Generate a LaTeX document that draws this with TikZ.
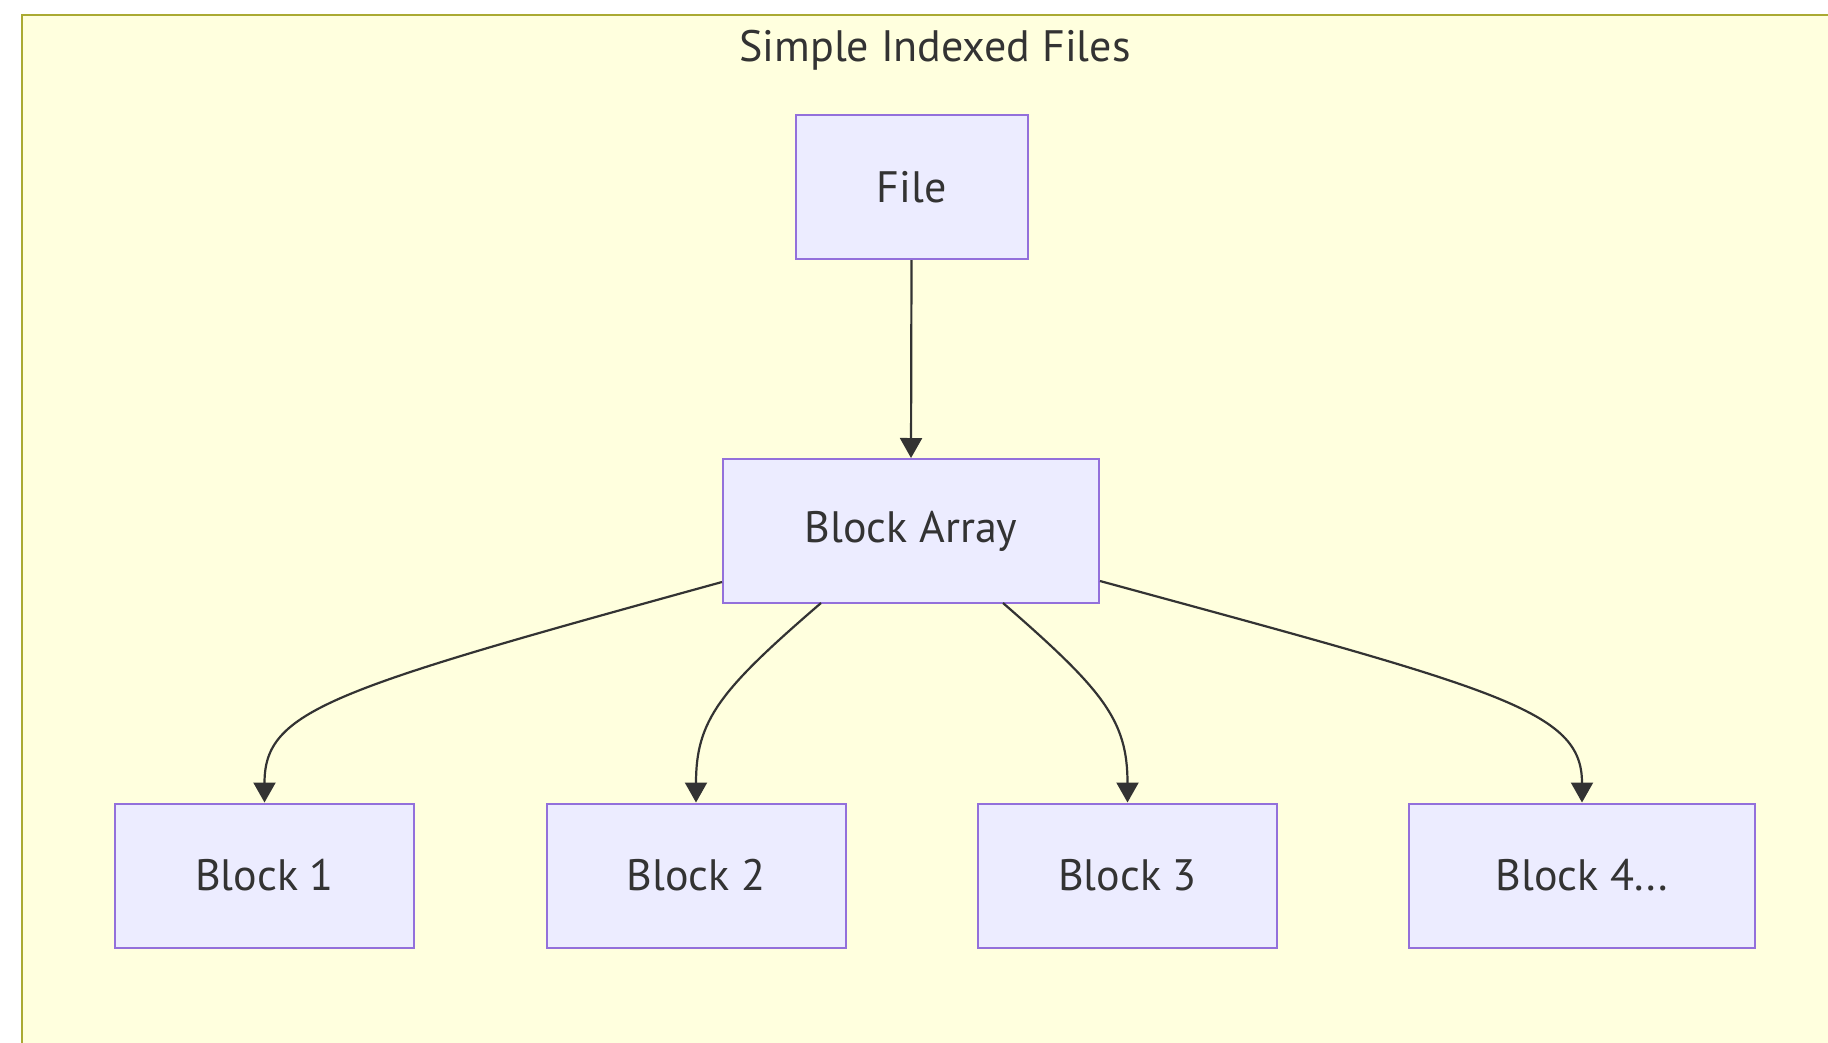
\documentclass[tikz,border=0pt]{standalone}
\usepackage{fontspec}
\setmainfont{PT Sans}
\usetikzlibrary{arrows.meta}
\definecolor{clusterfill}{HTML}{FFFFDE}
\definecolor{clusterline}{HTML}{AAAA33}
\definecolor{nodefill}{HTML}{ECECFF}
\definecolor{nodeline}{HTML}{9370DB}
\definecolor{ink}{HTML}{333333}
\tikzset{
  box/.style={draw=nodeline, fill=nodefill, line width=2pt, text=ink,
    inner sep=0pt, minimum height=144pt,
    font=\fontsize{44}{52}\selectfont},
  link/.style={draw=ink, line width=2.2pt,
    -{Triangle[width=22pt,length=20pt]}},
}
\begin{document}
\begin{tikzpicture}[x=1pt,y=-1pt]
  \useasboundingbox (0,0) rectangle (1828,1042);
  % cluster frame
  \draw[fill=clusterfill, draw=clusterline, line width=2.5pt]
    (22,15) rectangle (1860,1080);
  \node[text=ink, font=\fontsize{44}{52}\selectfont, anchor=base]
    (title) at (935,61) {Simple Indexed Files};
  % nodes
  \node[box, minimum width=232pt] (file) at (911.5,187) {File};
  \node[box, minimum width=376pt] (arr) at (911,531) {Block Array};
  \node[box, minimum width=299pt] (b1) at (264.5,875.5) {Block 1};
  \node[box, minimum width=299pt] (b2) at (696,875.5) {Block 2};
  \node[box, minimum width=299pt] (b3) at (1127.5,875.5) {Block 3};
  \node[box, minimum width=346pt] (b4) at (1582,875.5) {Block 4...};
  % exit points on the block array border
  \coordinate (o1) at (arr.west |- 0,582);
  \coordinate (o2) at (821,603);
  \coordinate (o3) at (1003,603);
  \coordinate (o4) at (arr.east |- 0,581);
  % connectors
  \draw[link] (file.south) -- (arr.north);
  \draw[link] (o1) .. controls (330,690) and (264.5,710) .. (b1.north);
  \draw[link] (o2) .. controls (720,690) and (696,720) .. (b2.north);
  \draw[link] (o3) .. controls (1103,690) and (1127.5,720) .. (b3.north);
  \draw[link] (o4) .. controls (1500,690) and (1582,710) .. (b4.north);
\end{tikzpicture}
\end{document}
